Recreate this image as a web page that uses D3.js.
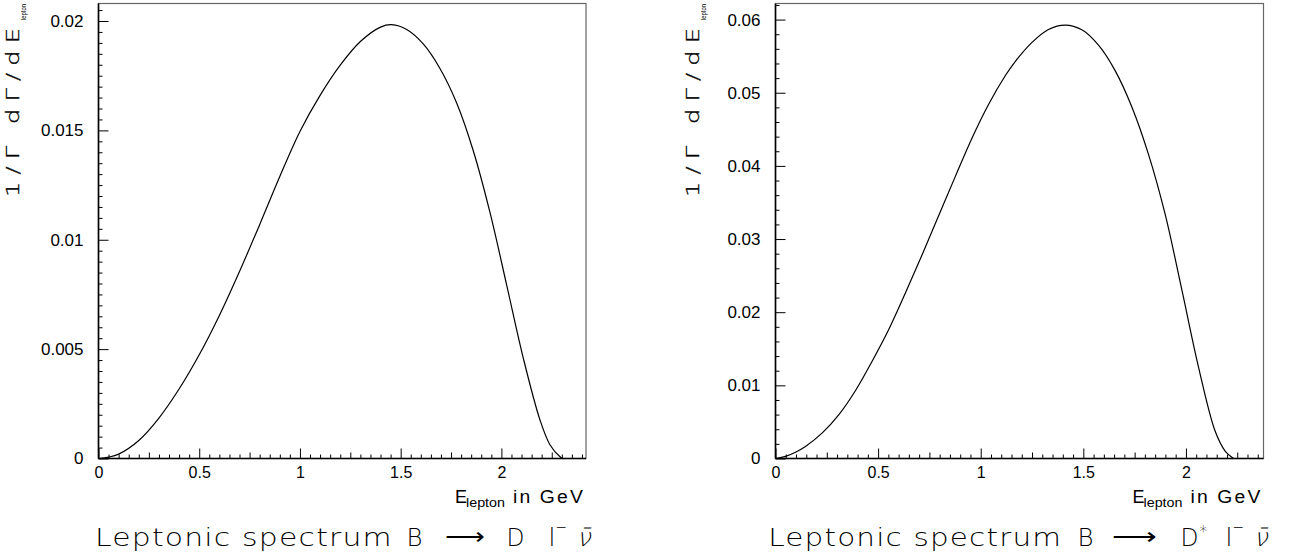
<!DOCTYPE html>
<html><head><meta charset="utf-8">
<script src="https://cdn.jsdelivr.net/npm/d3@7"></script>
<style>body{margin:0;background:#fff} svg{display:block;background:#fff}</style>
</head><body>
<svg id="chart" width="1290" height="556"></svg>
<script>
// ---------- data ----------
const energyD = [0, 0.05, 0.1, 0.2, 0.3, 0.4, 0.5, 0.6, 0.7, 0.8, 0.9, 1.0, 1.1, 1.2, 1.3, 1.4, 1.455, 1.53, 1.612, 1.695, 1.778, 1.86, 1.943, 2.026, 2.109, 2.192, 2.241, 2.291, 2.305];
const spectrumD = [0, 0.00006, 0.0002, 0.000825, 0.00185, 0.003175, 0.00474, 0.00654, 0.00855, 0.01069, 0.01289, 0.01495, 0.0166, 0.01798, 0.01906, 0.01972, 0.01983, 0.01961, 0.01895, 0.01783, 0.01625, 0.01408, 0.01126, 0.00794, 0.00458, 0.00175, 0.00063, 0.00008, 0];
const energyDstar = [0, 0.049, 0.1, 0.146, 0.228, 0.309, 0.39, 0.471, 0.553, 0.634, 0.715, 0.796, 0.877, 0.959, 1.04, 1.121, 1.168, 1.25, 1.33, 1.412, 1.493, 1.574, 1.655, 1.737, 1.818, 1.899, 1.98, 2.061, 2.143, 2.192, 2.232];
const spectrumDstar = [0, 0.0003, 0.0009, 0.00165, 0.0035, 0.006, 0.0093, 0.0133, 0.0177, 0.02268, 0.0279, 0.03325, 0.0386, 0.04389, 0.0485, 0.05239, 0.05427, 0.05689, 0.05865, 0.05925, 0.0586, 0.0565, 0.05302, 0.04802, 0.04154, 0.03336, 0.02307, 0.01254, 0.00368, 0.00098, 0];

const xTickValues = [0, 0.5, 1, 1.5, 2];
const xTickLabels = ["0", "0.5", "1", "1.5", "2"];
const yTickValuesD = [0, 0.005, 0.01, 0.015, 0.02];
const yTickLabelsD = ["0", "0.005", "0.01", "0.015", "0.02"];
const yTickValuesDstar = [0, 0.01, 0.02, 0.03, 0.04, 0.05, 0.06];
const yTickLabelsDstar = ["0", "0.01", "0.02", "0.03", "0.04", "0.05", "0.06"];
const yAxisTitle = "1/Γ dΓ/dE";
const axisSubscript = "lepton";
const xAxisTitleRest = "in GeV";
const titleText = "Leptonic spectrum";
const mesons = ["D", "D"];
const mesonStar = [false, true];

// ---------- layout ----------
const TOP = 3.5, BOTTOM = 458.5;
const panels = [
  {energy: energyD, spectrum: spectrumD, xMax: 2.42, yMax: 0.0208, yTicks: yTickValuesD, yLabels: yTickLabelsD,
   yMinor: 0.0005, yMajorEvery: 10, left: 98.5, right: 586, labelX: 18.5,
   specDx: -3.6, specLen: 298, bDx: 308, arrowDx: 346, arrowLen: 40, mDx: 408,
   meson: mesons[0], star: mesonStar[0]},
  {energy: energyDstar, spectrum: spectrumDstar, xMax: 2.378, yMax: 0.0622, yTicks: yTickValuesDstar, yLabels: yTickLabelsDstar,
   yMinor: 0.002, yMajorEvery: 5, left: 775.5, right: 1263.5, labelX: 698.5,
   specDx: -7.3, specLen: 294, bDx: 302, arrowDx: 336, arrowLen: 45, mDx: 405,
   meson: mesons[1], star: mesonStar[1]}
];

const svg = d3.select("#chart");
svg.append("rect").attr("width", 1290).attr("height", 556).attr("fill", "#fff");

const tickFont = "'Liberation Sans', Arial, Helvetica, sans-serif";
const titleFont = "'DejaVu Sans', sans-serif";

panels.forEach(p => {
  const x = d3.scaleLinear().domain([0, p.xMax]).range([p.left, p.right]);
  const y = d3.scaleLinear().domain([0, p.yMax]).range([BOTTOM, TOP]);
  const g = svg.append("g");

  // frame
  g.append("rect").attr("x", p.left).attr("y", TOP)
    .attr("width", p.right - p.left).attr("height", BOTTOM - TOP)
    .attr("fill", "none").attr("stroke", "#666").attr("stroke-width", 1.2);

  // y axis major ticks + labels
  const yAxis = d3.axisLeft(y).tickValues(p.yTicks).tickFormat((d, i) => p.yLabels[i])
    .tickSizeInner(-10).tickSizeOuter(0).tickPadding(15);
  const ya = g.append("g").attr("transform", `translate(${p.left},0)`).call(yAxis);
  ya.select(".domain").remove();
  ya.selectAll("line").attr("stroke", "#000").attr("stroke-width", 1);
  ya.selectAll("text").attr("font-family", tickFont).attr("font-size", 17).attr("fill", "#000");

  // y minor ticks
  const nMinor = Math.floor(p.yMax / p.yMinor + 1e-9);
  const yMinorVals = d3.range(0, nMinor + 1).filter(i => i % p.yMajorEvery !== 0).map(i => i * p.yMinor);
  const ym = g.append("g").attr("transform", `translate(${p.left},0)`)
    .call(d3.axisLeft(y).tickValues(yMinorVals).tickFormat("").tickSizeInner(-4).tickSizeOuter(0));
  ym.select(".domain").remove();
  ym.selectAll("line").attr("stroke", "#000").attr("stroke-width", 1);

  // x axis major ticks + labels
  const xAxis = d3.axisBottom(x).tickValues(xTickValues).tickFormat((d, i) => xTickLabels[i])
    .tickSizeInner(-10).tickSizeOuter(0).tickPadding(8.5);
  const xa = g.append("g").attr("transform", `translate(0,${BOTTOM})`).call(xAxis);
  xa.select(".domain").remove();
  xa.selectAll("line").attr("stroke", "#000").attr("stroke-width", 1);
  xa.selectAll("text").attr("font-family", tickFont).attr("font-size", 16).attr("fill", "#000");

  // x minor / medium ticks
  const nx = Math.floor(p.xMax / 0.05 + 1e-9);
  const xMinorVals = d3.range(0, nx + 1).filter(i => i % 10 !== 0 && i % 5 !== 0).map(i => i * 0.05);
  const xMedVals = d3.range(0, nx + 1).filter(i => i % 10 !== 0 && i % 5 === 0).map(i => i * 0.05);
  const xm = g.append("g").attr("transform", `translate(0,${BOTTOM})`)
    .call(d3.axisBottom(x).tickValues(xMinorVals).tickFormat("").tickSizeInner(-4).tickSizeOuter(0));
  xm.select(".domain").remove();
  xm.selectAll("line").attr("stroke", "#000").attr("stroke-width", 1);
  const xmd = g.append("g").attr("transform", `translate(0,${BOTTOM})`)
    .call(d3.axisBottom(x).tickValues(xMedVals).tickFormat("").tickSizeInner(-6).tickSizeOuter(0));
  xmd.select(".domain").remove();
  xmd.selectAll("line").attr("stroke", "#000").attr("stroke-width", 1);

  // axis lines (left & bottom, black)
  g.append("line").attr("x1", p.left).attr("x2", p.left).attr("y1", TOP).attr("y2", BOTTOM)
    .attr("stroke", "#000").attr("stroke-width", 1.6);
  g.append("line").attr("x1", p.left).attr("x2", p.right).attr("y1", BOTTOM).attr("y2", BOTTOM)
    .attr("stroke", "#000").attr("stroke-width", 1.6);

  // curve
  const pts = p.energy.map((e, i) => [e, p.spectrum[i]]);
  const line = d3.line().x(d => x(d[0])).y(d => y(d[1])).curve(d3.curveCatmullRom.alpha(0.5));
  g.append("path").attr("d", line(pts)).attr("fill", "none").attr("stroke", "#000").attr("stroke-width", 1.2);

  // y axis title (rotated)
  g.append("text").attr("transform", `translate(${p.labelX},197) rotate(-90)`)
    .attr("font-family", titleFont).attr("font-weight", 200).attr("font-size", 17).attr("fill", "#000")
    .attr("stroke", "#000").attr("stroke-width", 0.35)
    .attr("letter-spacing", 5)
    .attr("textLength", 176).attr("lengthAdjust", "spacingAndGlyphs").text(yAxisTitle);
  g.append("text").attr("transform", `translate(${p.labelX + 7.5},20) rotate(-90)`)
    .attr("font-family", tickFont).attr("font-size", 7.5).attr("fill", "#000")
    .attr("textLength", 16).attr("lengthAdjust", "spacingAndGlyphs").text(axisSubscript);

  // x axis title
  g.append("text").attr("x", p.right - 131).attr("y", 503)
    .attr("font-family", tickFont).attr("font-size", 18).attr("fill", "#000").text("E");
  g.append("text").attr("x", p.right - 120).attr("y", 507)
    .attr("font-family", tickFont).attr("font-size", 12).attr("fill", "#000")
    .attr("textLength", 39).attr("lengthAdjust", "spacingAndGlyphs").text(axisSubscript);
  g.append("text").attr("x", p.right - 73).attr("y", 503)
    .attr("font-family", tickFont).attr("font-size", 18).attr("fill", "#000")
    .attr("letter-spacing", 2)
    .attr("textLength", 72).attr("lengthAdjust", "spacingAndGlyphs").text(xAxisTitleRest);

  // title
  const tg = g.append("g").attr("font-family", titleFont).attr("font-weight", 200).attr("fill", "#000");
  const L = p.left, base = 546;
  tg.append("text").attr("x", L + p.specDx).attr("y", base).attr("font-size", 25)
    .attr("letter-spacing", 1)
    .attr("textLength", p.specLen).attr("lengthAdjust", "spacingAndGlyphs").text(titleText);
  tg.append("text").attr("x", L + p.bDx).attr("y", base).attr("font-size", 25)
    .attr("textLength", 16).attr("lengthAdjust", "spacingAndGlyphs").text("B");
  tg.append("text").attr("x", L + p.arrowDx).attr("y", base - 1).attr("font-size", 25)
    .attr("textLength", p.arrowLen).attr("lengthAdjust", "spacingAndGlyphs").text("⟶");
  tg.append("text").attr("x", L + p.mDx).attr("y", base).attr("font-size", 25)
    .attr("textLength", 18).attr("lengthAdjust", "spacingAndGlyphs").text(p.meson);
  if (p.star) tg.append("text").attr("x", L + 424).attr("y", base - 9).attr("font-size", 15).text("*");
  tg.append("text").attr("x", L + 450).attr("y", base).attr("font-size", 25).text("l");
  tg.append("text").attr("x", L + 457).attr("y", base - 14).attr("font-size", 14).text("−");
  tg.append("text").attr("transform", `translate(${L + 478},${base}) skewX(-14)`)
    .attr("font-size", 25).text("ν̄");
});
</script>
</body></html>
